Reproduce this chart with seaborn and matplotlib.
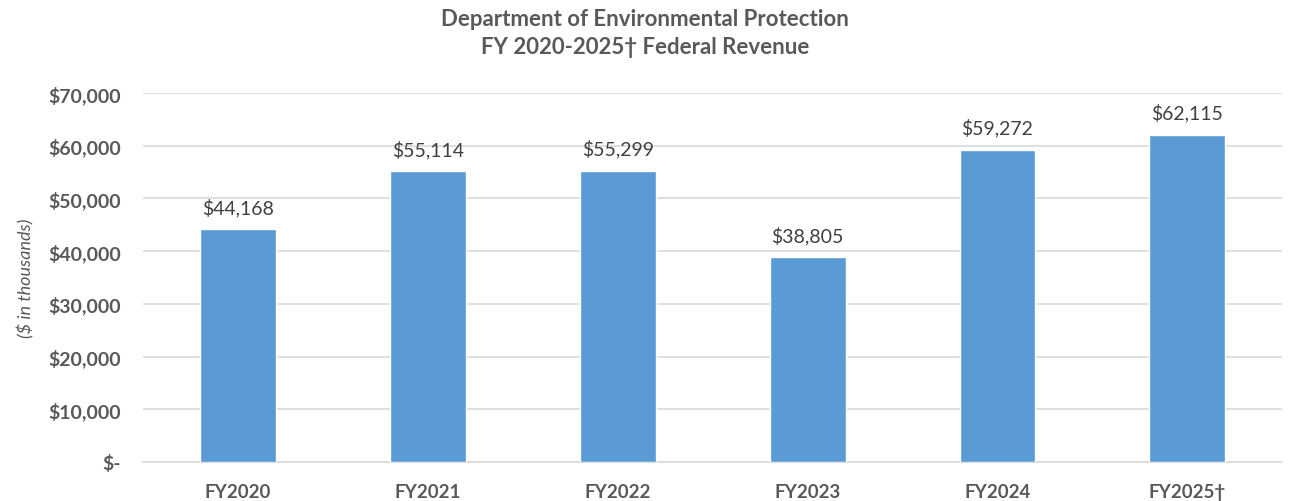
import matplotlib
matplotlib.use("Agg")
from matplotlib import pyplot as plt
import pandas as pd
import seaborn as sns

# Data
years = ["FY2020", "FY2021", "FY2022", "FY2023", "FY2024", "FY2025\u2020"]
revenue = [44168, 55114, 55299, 38805, 59272, 62115]

df = pd.DataFrame({"Year": years, "Revenue": revenue})

sns.set_theme(style="white")
plt.rcParams['font.family'] = ['Lato', 'DejaVu Sans']
grey = "#595959"

fig = plt.figure(figsize=(12.9, 5.02), dpi=100)
ax = fig.add_axes([0.111, 0.0777, 0.883, 0.735])

sns.barplot(data=df, x="Year", y="Revenue", color="#5B9BD5", width=0.40,
            saturation=1, ax=ax, zorder=3)

for i, v in enumerate(revenue):
    ax.text(i, v + 2500, f"${v:,}", ha="center", va="bottom",
            fontsize=14, color="#404040")

ax.set_ylim(0, 70000)
ax.set_yticks(range(0, 70001, 10000))
ax.set_yticklabels(["$-"] + [f"${t:,}" for t in range(10000, 70001, 10000)])
ax.yaxis.grid(True, color="#D9D9D9", linewidth=1.2, zorder=0)
ax.set_xlim(-0.5, 5.5)
for s in ["top", "right", "left"]:
    ax.spines[s].set_visible(False)
ax.spines["bottom"].set_color("#D9D9D9")
ax.spines["bottom"].set_linewidth(1.2)
ax.tick_params(axis="y", length=0, labelsize=14, colors=grey, pad=16)
ax.tick_params(axis="x", length=0, labelsize=13.5, colors=grey, pad=15)
for lbl in ax.get_xticklabels() + ax.get_yticklabels():
    lbl.set_fontweight("bold")
ax.set_xlabel("")
ax.set_ylabel("($ in thousands)", fontsize=13, color=grey, style="italic",
              labelpad=10)

fig.text(0.50, 0.962, "Department of Environmental Protection", ha="center",
         va="center", fontsize=16, fontweight="bold", color=grey)
fig.text(0.50, 0.906, "FY 2020-2025\u2020 Federal Revenue", ha="center",
         va="center", fontsize=16, fontweight="bold", color=grey)

fig.savefig("out.png", dpi=100)
